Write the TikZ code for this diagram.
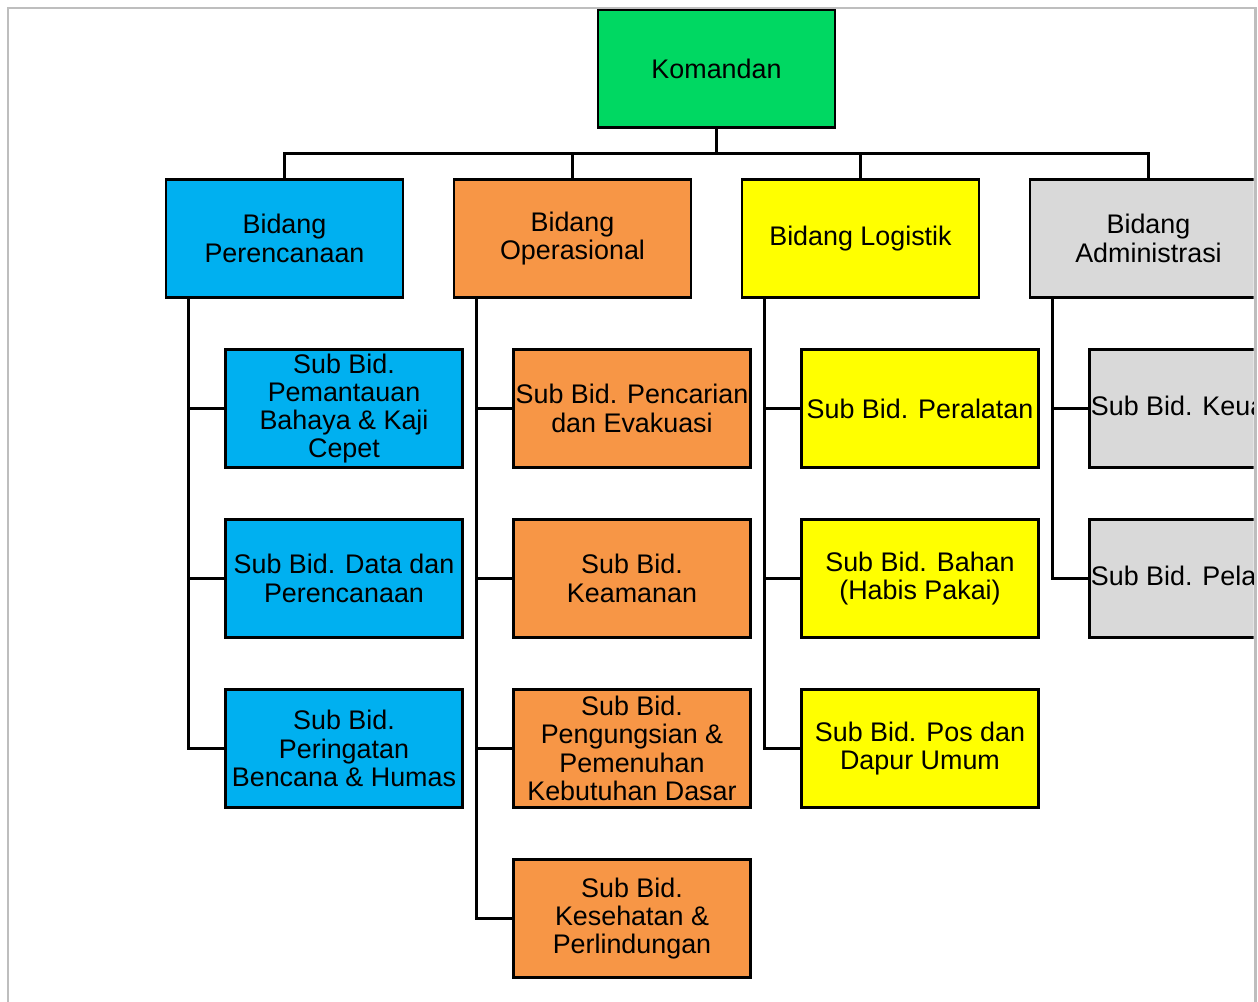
\documentclass[tikz,border=0pt]{standalone}
\usepackage{fontspec}
\setmainfont{Liberation Sans}
\usetikzlibrary{positioning}
\definecolor{komgreen}{RGB}{0,216,98}
\definecolor{planblue}{RGB}{0,176,240}
\definecolor{opsorange}{RGB}{247,150,70}
\definecolor{logyellow}{RGB}{255,255,0}
\definecolor{admgray}{RGB}{217,217,217}
\definecolor{framegray}{RGB}{190,190,190}
\tikzset{
  node distance=3.4cm,
  unit/.style={draw, line width=1.5pt, minimum width=4.74cm, minimum height=2.36cm,
    inner sep=0pt, align=center, font=\fontsize{15.3}{16.1}\selectfont},
  kom/.style={unit, fill=komgreen},
  plan/.style={unit, fill=planblue},
  ops/.style={unit, fill=opsorange},
  logi/.style={unit, fill=logyellow},
  adm/.style={unit, fill=admgray},
  link/.style={line width=1.5pt},
}

\begin{document}
\begin{tikzpicture}
    \useasboundingbox (-14.33,-18.67) rectangle (10.83,1.37);
    \begin{scope}
    \clip (-14.33,-18.67) rectangle (10.74,1.37);

    % top and bidang
    \node[kom] (kom) at (0,0) {Komandan};
    \node[ops, below of=kom, xshift=-2.88cm] (b2) {Bidang\\Operasional};
    \node[plan, left of=b2, node distance=5.76cm] (b1) {Bidang\\Perencanaan};
    \node[logi, right of=b2, node distance=5.76cm] (b3) {Bidang Logistik};
    \node[adm, right of=b3, node distance=5.76cm] (b4) {Bidang\\Administrasi};

    % sub bidang
    \node[plan, below of=b1, xshift=1.19cm] (s11) {Sub Bid.\\Pemantauan\\Bahaya \& Kaji\\Cepet};
    \node[plan, below of=s11] (s12) {Sub Bid. Data dan\\Perencanaan};
    \node[plan, below of=s12] (s13) {Sub Bid.\\Peringatan\\Bencana \& Humas};

    \node[ops, below of=b2, xshift=1.19cm] (s21) {Sub Bid. Pencarian\\dan Evakuasi};
    \node[ops, below of=s21] (s22) {Sub Bid.\\Keamanan};
    \node[ops, below of=s22] (s23) {Sub Bid.\\Pengungsian \&\\Pemenuhan\\Kebutuhan Dasar};
    \node[ops, below of=s23] (s24) {Sub Bid.\\Kesehatan \&\\Perlindungan};

    \node[logi, below of=b3, xshift=1.19cm] (s31) {Sub Bid. Peralatan};
    \node[logi, below of=s31] (s32) {Sub Bid. Bahan\\(Habis Pakai)};
    \node[logi, below of=s32] (s33) {Sub Bid. Pos dan\\Dapur Umum};

    \node[adm, below of=b4, xshift=1.19cm] (s41) {Sub Bid. Keuangan};
    \node[adm, below of=s41] (s42) {Sub Bid. Pelaporan};

    % bus
    \draw[link] (kom.south) -- ++(0,-0.5) coordinate (bus);
    \draw[link] (b1.north) -- (b1.north |- bus) -- (b4.north |- bus) -- (b4.north);
    \draw[link] (b2.north) -- (b2.north |- bus)
                (b3.north) -- (b3.north |- bus);

    % trunks
    \coordinate (t1) at ([xshift=0.48cm]b1.south west);
    \coordinate (t2) at ([xshift=0.48cm]b2.south west);
    \coordinate (t3) at ([xshift=0.48cm]b3.south west);
    \coordinate (t4) at ([xshift=0.48cm]b4.south west);
    \draw[link] (t1) |- (s13.west)
                (t1 |- s11.west) -- (s11.west)
                (t1 |- s12.west) -- (s12.west);
    \draw[link] (t2) |- (s24.west)
                (t2 |- s21.west) -- (s21.west)
                (t2 |- s22.west) -- (s22.west)
                (t2 |- s23.west) -- (s23.west);
    \draw[link] (t3) |- (s33.west)
                (t3 |- s31.west) -- (s31.west)
                (t3 |- s32.west) -- (s32.west);
    \draw[link] (t4) |- (s42.west)
                (t4 |- s41.west) -- (s41.west);
    \end{scope}

    % frame
    \begin{scope}
    \clip (-14.33,-18.67) rectangle (10.83,1.37);
    \draw[framegray, line width=1.2pt] (-14.17,-19) -- (-14.17,1.21) -- (10.78,1.21) -- (10.78,-19);
    \end{scope}
\end{tikzpicture}
\end{document}
